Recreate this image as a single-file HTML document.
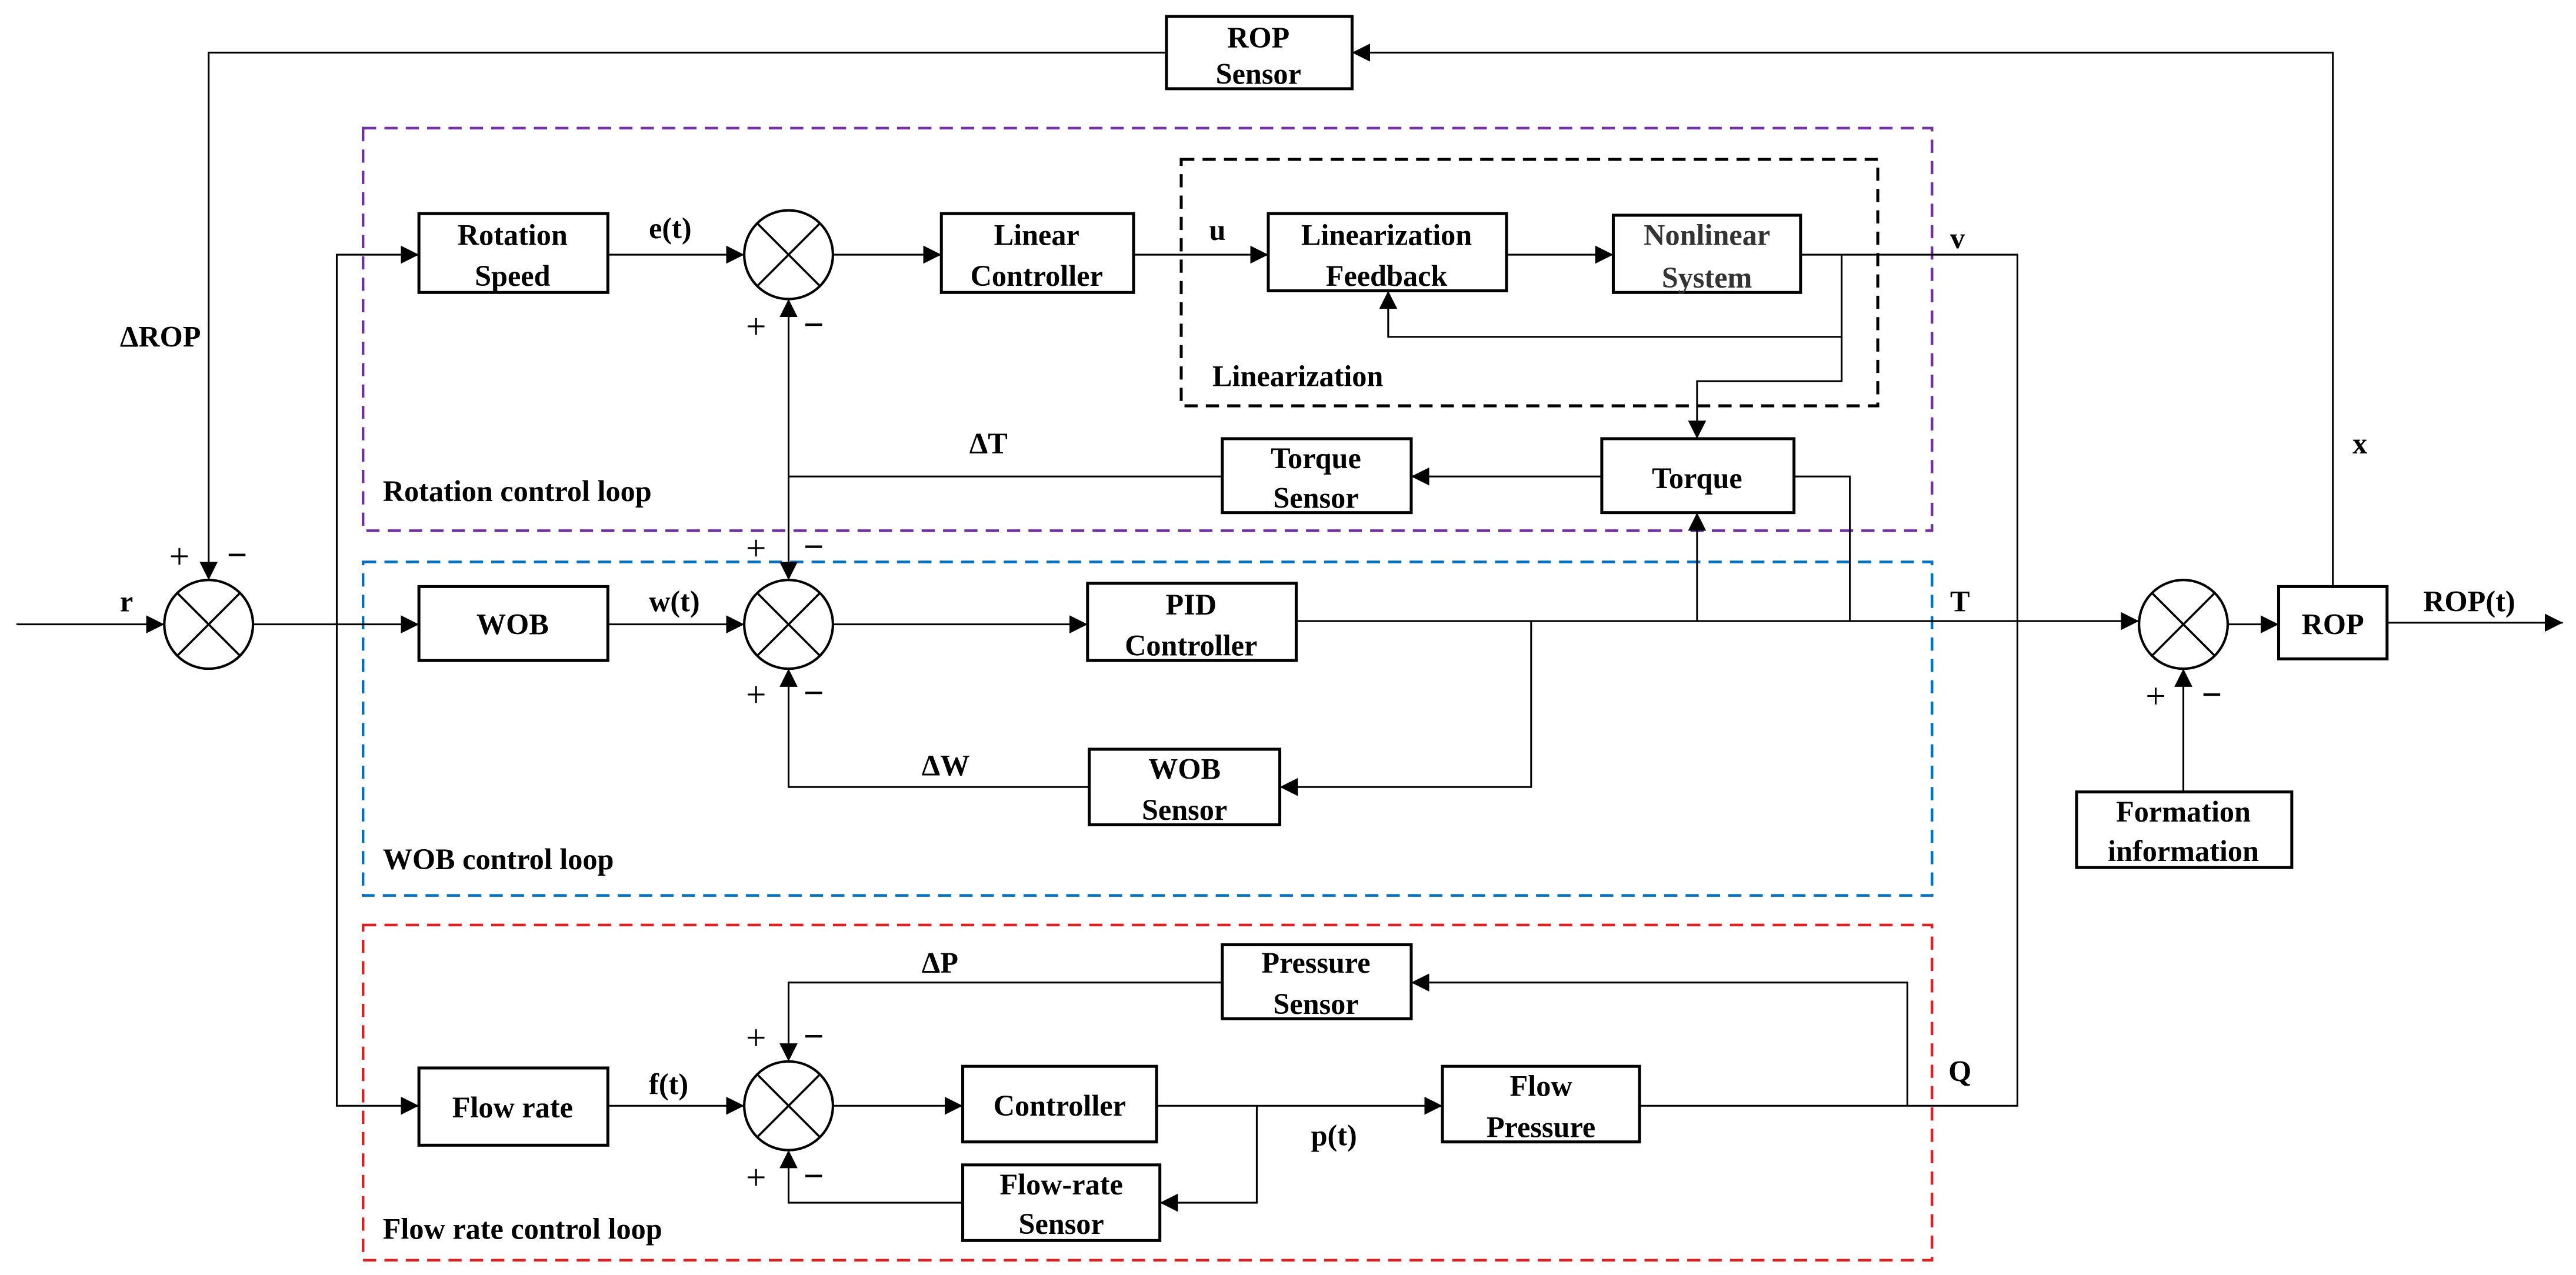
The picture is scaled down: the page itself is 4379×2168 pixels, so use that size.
<!DOCTYPE html>
<html><head><meta charset="utf-8"><style>
html,body{margin:0;padding:0;background:#fff;}
svg{display:block;}
text{font-family:"Liberation Serif",serif;font-weight:bold;font-size:18px;fill:#000;}
.pm{font-size:22px;}
</style></head><body>
<svg width="4379" height="2168" viewBox="0 0 1568 776" preserveAspectRatio="none" xmlns="http://www.w3.org/2000/svg">
<defs>
<marker id="a" viewBox="0 0 10 10" refX="10" refY="5" markerWidth="11" markerHeight="11" markerUnits="userSpaceOnUse" orient="auto"><path d="M0,0L10,5L0,10z" fill="#000"/></marker>
</defs>
<rect x="221" y="78" width="955" height="245" fill="none" stroke="#7030a0" stroke-width="1.6" stroke-dasharray="8,5"/>
<rect x="221" y="342" width="955" height="203" fill="none" stroke="#0070c0" stroke-width="1.6" stroke-dasharray="8,5"/>
<rect x="221" y="563" width="955" height="204" fill="none" stroke="#e02020" stroke-width="1.6" stroke-dasharray="8,5"/>
<rect x="719" y="97" width="424" height="150" fill="none" stroke="#000" stroke-width="1.8" stroke-dasharray="8,5"/>

<g fill="none" stroke="#000" stroke-width="1.1">
<polyline points="1420,357 1420,32 823,32" marker-end="url(#a)"/>
<polyline points="710,32 127,32 127,353" marker-end="url(#a)"/>
<line x1="10" y1="380" x2="100" y2="380" marker-end="url(#a)"/>
<line x1="154" y1="380" x2="255" y2="380" marker-end="url(#a)"/>
<polyline points="255,155 205,155 205,673 255,673" />
<line x1="245" y1="155" x2="255" y2="155" marker-end="url(#a)"/>
<line x1="245" y1="673" x2="255" y2="673" marker-end="url(#a)"/>
<line x1="370" y1="155" x2="453" y2="155" marker-end="url(#a)"/>
<line x1="507" y1="155" x2="573" y2="155" marker-end="url(#a)"/>
<line x1="690" y1="155" x2="772" y2="155" marker-end="url(#a)"/>
<line x1="917" y1="155" x2="982" y2="155" marker-end="url(#a)"/>
<polyline points="1096,155 1228,155 1228,673 998,673"/>
<polyline points="1121,155 1121,205 845,205 845,177" marker-end="url(#a)"/>
<polyline points="1121,205 1121,232 1033,232 1033,267" marker-end="url(#a)"/>
<line x1="975" y1="290" x2="859" y2="290" marker-end="url(#a)"/>
<line x1="744" y1="290" x2="480" y2="290"/>
<line x1="480" y1="290" x2="480" y2="182" marker-end="url(#a)"/>
<line x1="480" y1="290" x2="480" y2="353" marker-end="url(#a)"/>
<polyline points="1092,290 1126,290 1126,378"/>
<line x1="370" y1="380" x2="453" y2="380" marker-end="url(#a)"/>
<line x1="507" y1="380" x2="662" y2="380" marker-end="url(#a)"/>
<line x1="789" y1="378" x2="1302" y2="378" marker-end="url(#a)"/>
<line x1="1033" y1="378" x2="1033" y2="312" marker-end="url(#a)"/>
<polyline points="932,378 932,479 779,479" marker-end="url(#a)"/>
<polyline points="663,479 480,479 480,407" marker-end="url(#a)"/>
<line x1="1356" y1="380" x2="1387" y2="380" marker-end="url(#a)"/>
<line x1="1453" y1="379" x2="1560" y2="379" marker-end="url(#a)"/>
<line x1="1329" y1="482" x2="1329" y2="407" marker-end="url(#a)"/>
<line x1="370" y1="673" x2="453" y2="673" marker-end="url(#a)"/>
<line x1="507" y1="673" x2="586" y2="673" marker-end="url(#a)"/>
<line x1="704" y1="673" x2="878" y2="673" marker-end="url(#a)"/>
<polyline points="765,673 765,732 706,732" marker-end="url(#a)"/>
<polyline points="586,732 480,732 480,700" marker-end="url(#a)"/>
<polyline points="1161,673 1161,598 859,598" marker-end="url(#a)"/>
<polyline points="744,598 480,598 480,646" marker-end="url(#a)"/>
</g>

<g fill="#fff" stroke="#000" stroke-width="1.5">
<ellipse cx="127" cy="380" rx="27" ry="27"/>
<ellipse cx="480" cy="155" rx="27" ry="27"/>
<ellipse cx="480" cy="380" rx="27" ry="27"/>
<ellipse cx="480" cy="673" rx="27" ry="27"/>
<ellipse cx="1329" cy="380" rx="27" ry="27"/>
</g>
<g stroke="#000" stroke-width="1.3">
<path d="M108,361L146,399M146,361L108,399"/>
<path d="M461,136L499,174M499,136L461,174"/>
<path d="M461,361L499,399M499,361L461,399"/>
<path d="M461,654L499,692M499,654L461,692"/>
<path d="M1310,361L1348,399M1348,361L1310,399"/>
</g>

<g fill="#fff" stroke="#000" stroke-width="1.8">
<rect x="710" y="10" width="113" height="44"/>
<rect x="255" y="130" width="115" height="48"/>
<rect x="573" y="130" width="117" height="48"/>
<rect x="772" y="130" width="145" height="47"/>
<rect x="982" y="131" width="114" height="47"/>
<rect x="744" y="267" width="115" height="45"/>
<rect x="975" y="267" width="117" height="45"/>
<rect x="255" y="357" width="115" height="45"/>
<rect x="662" y="355" width="127" height="47"/>
<rect x="663" y="456" width="116" height="46"/>
<rect x="1387" y="357" width="66" height="44"/>
<rect x="1264" y="482" width="131" height="46"/>
<rect x="255" y="650" width="115" height="47"/>
<rect x="586" y="649" width="118" height="46"/>
<rect x="878" y="649" width="120" height="46"/>
<rect x="744" y="575" width="115" height="45"/>
<rect x="586" y="709" width="120" height="46"/>
</g>

<g text-anchor="middle">
<text x="766" y="29">ROP</text><text x="766" y="51">Sensor</text>
<text x="312" y="149">Rotation</text><text x="312" y="174">Speed</text>
<text x="631" y="149">Linear</text><text x="631" y="174">Controller</text>
<text x="844" y="149">Linearization</text><text x="844" y="174">Feedback</text>
<text x="1039" y="149" style="fill:#333">Nonlinear</text><text x="1039" y="175" style="fill:#333">System</text>
<text x="801" y="285">Torque</text><text x="801" y="309">Sensor</text>
<text x="1033" y="297">Torque</text>
<text x="312" y="386">WOB</text>
<text x="725" y="374">PID</text><text x="725" y="399">Controller</text>
<text x="721" y="474">WOB</text><text x="721" y="499">Sensor</text>
<text x="1420" y="386">ROP</text>
<text x="1329" y="500">Formation</text><text x="1329" y="524">information</text>
<text x="312" y="680">Flow rate</text>
<text x="645" y="679">Controller</text>
<text x="938" y="667">Flow</text><text x="938" y="692">Pressure</text>
<text x="801" y="592">Pressure</text><text x="801" y="617">Sensor</text>
<text x="646" y="727">Flow-rate</text><text x="646" y="751">Sensor</text>
</g>

<g>
<text x="73" y="211">ΔROP</text>
<text x="73" y="372">r</text>
<text x="395" y="145">e(t)</text>
<text x="736" y="146">u</text>
<text x="1187" y="151">v</text>
<text x="1432" y="276">x</text>
<text x="590" y="276">ΔT</text>
<text x="395" y="372">w(t)</text>
<text x="1187" y="372">T</text>
<text x="1475" y="372">ROP(t)</text>
<text x="561" y="472">ΔW</text>
<text x="561" y="592">ΔP</text>
<text x="395" y="666">f(t)</text>
<text x="798" y="697">p(t)</text>
<text x="1186" y="658">Q</text>
<text x="738" y="235">Linearization</text>
<text x="233" y="305">Rotation control loop</text>
<text x="233" y="529">WOB control loop</text>
<text x="233" y="754">Flow rate control loop</text>
</g>
<g class="pm">
<text class="pm" x="103" y="346" style="font-weight:normal">+</text><text class="pm" x="138" y="345">−</text>
<text class="pm" x="454" y="206" style="font-weight:normal">+</text><text class="pm" x="489" y="205">−</text>
<text class="pm" x="454" y="341" style="font-weight:normal">+</text><text class="pm" x="489" y="340">−</text>
<text class="pm" x="454" y="430" style="font-weight:normal">+</text><text class="pm" x="489" y="429">−</text>
<text class="pm" x="454" y="639" style="font-weight:normal">+</text><text class="pm" x="489" y="638">−</text>
<text class="pm" x="454" y="724" style="font-weight:normal">+</text><text class="pm" x="489" y="723">−</text>
<text class="pm" x="1306" y="431" style="font-weight:normal">+</text><text class="pm" x="1340" y="430">−</text>
</g>
</svg>
</body></html>
